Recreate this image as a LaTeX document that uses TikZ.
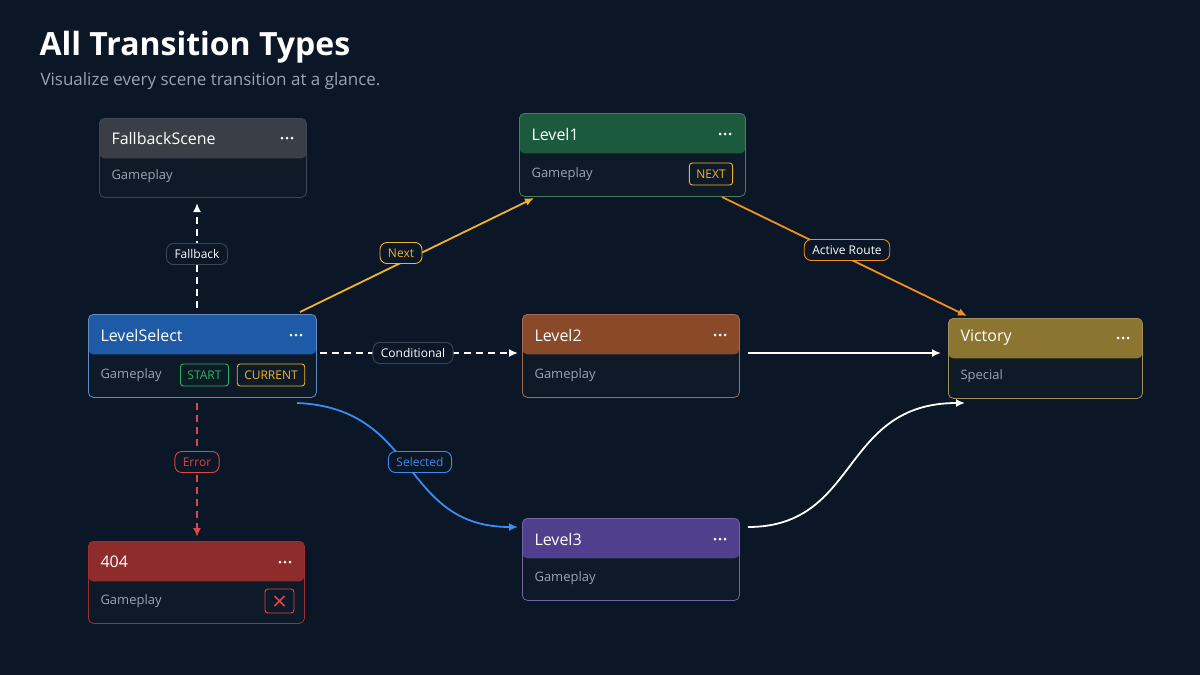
\documentclass[tikz,border=0pt]{standalone}
\usepackage{fontspec}
\setmainfont{Open Sans}
\usetikzlibrary{arrows.meta}
\definecolor{bg}{HTML}{0B1626}
\definecolor{body}{HTML}{0F1A29}
\definecolor{bord}{HTML}{3A4556}
\definecolor{subc}{HTML}{9AA3B2}
\definecolor{hgray}{HTML}{3A3F47}
\definecolor{hblue}{HTML}{1F5AA6}
\definecolor{hgreen}{HTML}{1C5A3E}
\definecolor{horange}{HTML}{8A4A2A}
\definecolor{hpurple}{HTML}{503F8C}
\definecolor{hgold}{HTML}{8C7530}
\definecolor{hred}{HTML}{8E2B2B}
\definecolor{cyel}{HTML}{F0B429}
\definecolor{corg}{HTML}{F0901E}
\definecolor{cred}{HTML}{E04545}
\definecolor{cblue}{HTML}{3B8CF0}
\definecolor{cgrn}{HTML}{2BB55A}
\tikzset{
  card/.style n args={4}{draw=#2, line width=0.8pt, fill=body, rounded corners=5pt, anchor=north west,
    minimum width=#3, minimum height=#4, inner sep=0pt,
    path picture={\fill[#1] (path picture bounding box.north west) rectangle ([yshift=-40pt]path picture bounding box.north east);}},
  ttl/.style={anchor=west, text=white, font=\fontsize{16}{18}\selectfont},
  sub/.style={anchor=west, text=subc, font=\fontsize{13}{15}\selectfont},
  lbl/.style={draw=#1, fill=bg, rounded corners=7pt, line width=0.9pt, inner xsep=8pt, minimum height=21pt, font=\fontsize{12}{14}\selectfont},
  badge/.style={draw=#1, text=#1, rounded corners=3pt, line width=0.9pt, minimum height=22pt, inner xsep=7pt, font=\fontsize{12}{14}\selectfont},
  conn/.style={line width=1.8pt, -{Latex[length=9pt,width=8pt]}},
  dsh/.style={dash pattern=on 7pt off 5pt},
}
\newcommand{\mydots}[2]{\foreach \k in {0,1,2}{\fill[white] (#1+\k*5,#2) circle (1.5);}}
\begin{document}
\begin{tikzpicture}[x=1pt,y=-1pt]
\fill[bg] (0,0) rectangle (1200,675);
\useasboundingbox (0,0) rectangle (1200,675);
\node[anchor=west, text=white, font=\fontsize{32}{36}\selectfont\bfseries] (title) at (36,47) {All Transition Types};
\node[anchor=west, text=subc, font=\fontsize{17}{20}\selectfont] (subt) at (37,81) {Visualize every scene transition at a glance.};

% cards
\node[card={hgray}{bord}{207pt}{79pt}] (fb) at (99,118) {};
\node[ttl] (fbt) at (108,138) {FallbackScene}; \mydots{282}{138}
\node[sub] (fbs) at (108,176) {Gameplay};

\node[card={hblue}{hblue!70!white}{228pt}{83pt}] (ls) at (88,314) {};
\node[ttl] (lst) at (97,335) {LevelSelect}; \mydots{291}{335}
\node[sub] (lss) at (97,375) {Gameplay};
\node[badge=cgrn] (bst) at (204.5,375) {START};
\node[badge=cyel] (bcu) at (271,375) {CURRENT};

\node[card={hgreen}{hgreen!80!white}{226pt}{83pt}] (l1) at (519,113) {};
\node[ttl] (l1t) at (528,134) {Level1}; \mydots{720}{134}
\node[sub] (l1s) at (528,174) {Gameplay};
\node[badge=cyel] (bnx) at (711,174) {NEXT};

\node[card={horange}{horange!80!white}{217pt}{83pt}] (l2) at (522,314) {};
\node[ttl] (l2t) at (531,335) {Level2}; \mydots{715}{335}
\node[sub] (l2s) at (531,375) {Gameplay};

\node[card={hpurple}{hpurple!80!white}{217pt}{82pt}] (l3) at (522,518) {};
\node[ttl] (l3t) at (531,539) {Level3}; \mydots{715}{539}
\node[sub] (l3s) at (531,578) {Gameplay};

\node[card={hgold}{hgold!80!white}{194pt}{80pt}] (vi) at (948,318) {};
\node[ttl] (vit) at (957,338) {Victory}; \mydots{1118}{338}
\node[sub] (vis) at (957,376) {Special};

\node[card={hred}{cred!70!black}{216pt}{82pt}] (er) at (88,541) {};
\node[ttl] (ert) at (97,562) {404}; \mydots{280}{562}
\node[sub] (ers) at (97,601) {Gameplay};
\node[draw=cred, rounded corners=3pt, line width=0.9pt, minimum width=29pt, minimum height=24pt, inner sep=0pt] (ex) at (279.5,601) {};
\draw[cred, line width=1.6pt] ([shift={(-5,-5)}]ex.center) -- ([shift={(5,5)}]ex.center) ([shift={(-5,5)}]ex.center) -- ([shift={(5,-5)}]ex.center);

% connectors
\coordinate (a1) at (197,308); \coordinate (a2) at (197,203);
\draw[conn, dsh, white] (a1) -- (a2);
\node[lbl=bord, text=white] (lfb) at (197,254) {Fallback};

\coordinate (b1) at (300,312); \coordinate (b2) at (534,198);
\draw[conn, cyel] (b1) -- (b2);
\node[lbl=cyel, text=cyel] (lnx) at (401,253) {Next};

\coordinate (c1) at (320,353); \coordinate (c2) at (518,353);
\draw[conn, dsh, white] (c1) -- (c2);
\node[lbl=bord, text=white] (lco) at (413,353) {Conditional};

\coordinate (d1) at (197,403); \coordinate (d2) at (197,537);
\draw[conn, dsh, cred] (d1) -- (d2);
\node[lbl=cred, text=cred] (ler) at (197,462) {Error};

\coordinate (e1) at (297,403); \coordinate (e2) at (518,527);
\draw[conn, cblue] (e1) .. controls (420,408) and (400,527) .. (e2);
\node[lbl=cblue, text=cblue] (lse) at (420,462) {Selected};

\coordinate (f1) at (722,197); \coordinate (f2) at (967,316);
\draw[conn, corg] (f1) -- (f2);
\node[lbl=corg, text=white] (lar) at (847,250) {Active Route};

\coordinate (g1) at (748,353); \coordinate (g2) at (941,353);
\draw[conn, white] (g1) -- (g2);

\coordinate (h1) at (748,527); \coordinate (h2) at (965,403);
\draw[conn, white] (h1) .. controls (860,527) and (840,403) .. (h2);
\end{tikzpicture}
\end{document}
